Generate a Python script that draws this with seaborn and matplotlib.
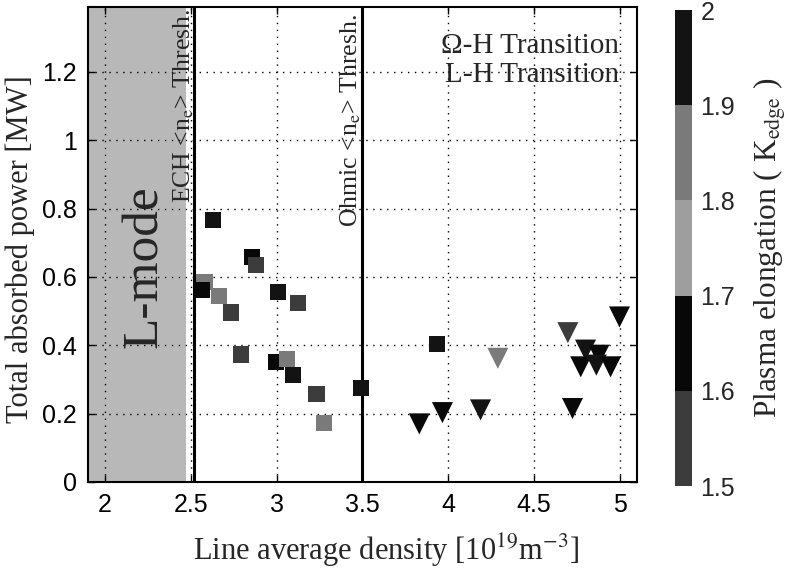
import numpy as np
import pandas as pd
import matplotlib
matplotlib.use("Agg")
import matplotlib.pyplot as plt
import seaborn as sns
from matplotlib.colors import ListedColormap, Normalize
from matplotlib.cm import ScalarMappable

# ---- data ----
sq_density = [2.63, 2.855, 2.878, 2.579, 2.563, 2.666, 2.733, 3.008, 3.124,
              2.791, 2.996, 3.058, 3.093, 3.232, 3.278, 3.49, 3.933]
sq_power = [0.766, 0.659, 0.634, 0.586, 0.561, 0.544, 0.496, 0.555, 0.524,
            0.373, 0.351, 0.360, 0.313, 0.257, 0.173, 0.276, 0.405]
sq_kappa = [1.95, 1.65, 1.55, 1.85, 1.65, 1.85, 1.55, 1.95, 1.55,
            1.55, 1.65, 1.85, 1.95, 1.55, 1.85, 1.95, 1.95]

tri_density = [4.289, 3.831, 3.966, 4.188, 4.724, 4.697, 4.998, 4.80,
               4.878, 4.772, 4.863, 4.946]
tri_power = [0.362, 0.170, 0.203, 0.211, 0.215, 0.437, 0.483, 0.386,
             0.371, 0.337, 0.342, 0.337]
tri_kappa = [1.85, 1.65, 1.65, 1.95, 1.65, 1.55, 1.65, 1.95,
             1.65, 1.65, 1.95, 1.65]

x_ticks = [2, 2.5, 3, 3.5, 4, 4.5, 5]
y_ticks = [0, 0.2, 0.4, 0.6, 0.8, 1.0, 1.2]
y_tick_labels = ["0", "0.2", "0.4", "0.6", "0.8", "1", "1.2"]
cb_ticks = [1.5, 1.6, 1.7, 1.8, 1.9, 2.0]
cb_tick_labels = ["1.5", "1.6", "1.7", "1.8", "1.9", "2"]

ech_thresh = 2.52
ohmic_thresh = 3.5
lmode_right = 2.47

df = pd.DataFrame({
    "density": sq_density + tri_density,
    "power": sq_power + tri_power,
    "kappa": sq_kappa + tri_kappa,
    "transition": ["OH"] * len(sq_density) + ["LH"] * len(tri_density),
})

# ---- style ----
sns.set_style("ticks")
plt.rcParams["font.family"] = ["Liberation Sans", "DejaVu Sans"]
plt.rcParams["mathtext.fontset"] = "stix"
serif = ["Liberation Serif", "DejaVu Serif"]

cmap = ListedColormap(["#3c3c3c", "#080808", "#9e9e9e", "#7a7a7a", "#131313"])
norm = Normalize(1.5, 2.0)

fig = plt.figure(figsize=(7.87, 5.74), dpi=100)
ax = fig.add_axes([0.1118, 0.1603, 0.6976, 0.8275])
cax = fig.add_axes([0.8577, 0.1533, 0.0216, 0.829])

ax.axvspan(1.9, lmode_right, color="#b8b8b8", lw=0, zorder=0.5)

sns.scatterplot(data=df, x="density", y="power", hue="kappa", style="transition",
                markers={"OH": "s", "LH": "v"}, palette=cmap, hue_norm=norm,
                size="transition", sizes={"OH": 135, "LH": 230},
                linewidth=0, legend=False, ax=ax, zorder=3)

ax.axvline(ech_thresh, color="black", lw=2.2, zorder=2.8)
ax.axvline(ohmic_thresh, color="black", lw=2.2, zorder=2.8)

ax.set_xlim(1.9, 5.1)
ax.set_ylim(0, 1.39)
ax.set_xticks(x_ticks)
ax.set_xticklabels([f"{v:g}" for v in x_ticks])
ax.set_yticks(y_ticks)
ax.set_yticklabels(y_tick_labels)
ax.grid(True, color="black", linestyle=(0, (1, 4)), linewidth=1.0)
ax.set_axisbelow(False)
ax.tick_params(direction="in", length=5, width=1, labelsize=18, top=True, right=True,
               colors="black", pad=8)
for s in ax.spines.values():
    s.set_visible(True)
    s.set_linewidth(1.5)
    s.set_color("black")

ax.set_xlabel("Line average density [10$^{19}$m$^{-3}$]", fontsize=22,
              family=serif)
ax.xaxis.set_label_coords(0.543, -0.105)
ax.set_ylabel("Total absorbed power [MW]", fontsize=22, family=serif)
ax.yaxis.set_label_coords(-0.097, 0.49)

ax.text(2.23, 0.63, "L-mode", rotation=90, fontsize=37, family=serif,
        ha="center", va="center", zorder=4)
ax.text(2.455, 1.385, "ECH <n$_{\\rm e}$> Thresh.", rotation=90, fontsize=18.5,
        family=serif, ha="center", va="top", zorder=4)
ax.text(3.43, 1.37, "Ohmic <n$_{\\rm e}$> Thresh.", rotation=90, fontsize=18.5,
        family=serif, ha="center", va="top", zorder=4)
ax.text(4.995, 1.275, "Ω-H Transition", fontsize=21, family=serif,
        ha="right", va="center", zorder=4)
ax.text(4.995, 1.192, "L-H Transition", fontsize=21, family=serif,
        ha="right", va="center", zorder=4)

sm = ScalarMappable(norm=norm, cmap=cmap)
cb = fig.colorbar(sm, cax=cax)
cb.set_ticks(cb_ticks)
cb.set_ticklabels(cb_tick_labels)
cb.outline.set_visible(False)
cax.tick_params(length=0, labelsize=18, pad=6)
cb.set_label("Plasma elongation ( K$_{\\rm edge}$ )", fontsize=22.5, family=serif,
             labelpad=12)

fig.savefig("out.png", dpi=100)
